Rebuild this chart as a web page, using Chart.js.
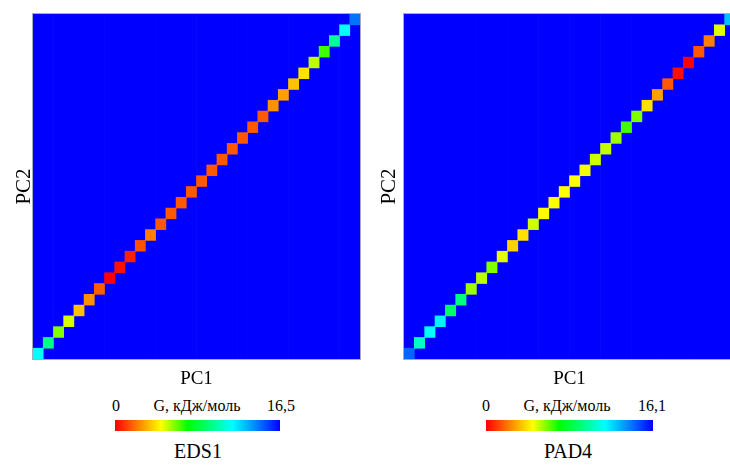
<!DOCTYPE html>
<html>
<head>
<meta charset="utf-8">
<script src="https://cdn.jsdelivr.net/npm/chart.js@4.4.1/dist/chart.umd.min.js"></script>
<style>
  html, body { margin: 0; padding: 0; background: #fff; overflow: hidden; }
  body { width: 730px; height: 465px; position: relative; font-family: 'Liberation Serif', 'Times New Roman', serif; color: #000; }
  .panel { position: absolute; top: 0; }
  .lbl { position: absolute; font-size: 16px; line-height: 16px; white-space: nowrap; }
  .name { position: absolute; font-size: 20px; line-height: 20px; white-space: nowrap; }
  .bar { position: absolute; top: 420px; height: 11px; }
</style>
</head>
<body>
<canvas id="chartEDS1" class="panel" style="left:0px" width="365" height="395"></canvas>
<canvas id="chartPAD4" class="panel" style="left:371px" width="364" height="395"></canvas>

<div class="lbl" style="left:112px; top:398px">0</div>
<div class="lbl" style="left:197px; top:398px; transform:translateX(-50%)">G, кДж/моль</div>
<div class="lbl" style="left:267px; top:398px">16,5</div>
<div class="bar" id="barEDS1" style="left:115px; width:165px"></div>
<div class="name" style="left:198px; top:441px; transform:translateX(-50%)">EDS1</div>

<div class="lbl" style="left:482px; top:398px">0</div>
<div class="lbl" style="left:567px; top:398px; transform:translateX(-50%)">G, кДж/моль</div>
<div class="lbl" style="left:638px; top:398px">16,1</div>
<div class="bar" id="barPAD4" style="left:486px; width:167px"></div>
<div class="name" style="left:568px; top:441px; transform:translateX(-50%)">PAD4</div>

<script>
// PC1 bins (columns), diagonal cell = same bin on PC2
const pcBins = [1, 2, 3, 4, 5, 6, 7, 8, 9, 10, 11, 12, 13, 14, 15, 16,
                17, 18, 19, 20, 21, 22, 23, 24, 25, 26, 27, 28, 29, 30, 31, 32];

// free energy G (kJ/mol) on the diagonal, from bin 1 (bottom-left) to 32 (top-right)
const gEDS1 = [11.7, 9.6, 5.9, 5.0, 3.5, 2.6, 1.7, 0.0, 0.3, 0.6, 1.5, 2.3,
               1.6, 1.6, 1.6, 1.6, 1.6, 1.6, 1.6, 1.6, 1.6, 1.6, 1.6,
               2.6, 2.9, 3.5, 4.1, 5.3, 6.6, 9.9, 11.7, 14.4];
const gPAD4 = [14.3, 10.4, 11.4, 11.6, 8.8, 9.3, 5.5, 5.2, 5.8, 4.8,
               3.7, 4.0, 5.0, 4.5, 4.5, 4.5, 4.5, 4.6, 5.0, 5.1,
               5.5, 6.4, 5.8, 4.0, 2.8, 1.55, 0.25, 0.0, 1.55, 2.25,
               4.8, 12.6];

// colour scale ends
const gMaxEDS1 = 16.5;
const gMaxPAD4 = 16.1;

// reversed jet: red at 0, blue at max
const jetStops = [
  [0.00, 255, 0, 0],
  [0.14, 255, 128, 0],
  [0.28, 255, 255, 0],
  [0.44, 0, 255, 0],
  [0.58, 0, 255, 128],
  [0.71, 0, 255, 255],
  [0.86, 0, 128, 255],
  [1.00, 0, 0, 255]
];

function jet(t) {
  t = Math.max(0, Math.min(1, t));
  for (let i = 1; i < jetStops.length; i++) {
    const a = jetStops[i - 1], b = jetStops[i];
    if (t <= b[0]) {
      const f = (t - a[0]) / (b[0] - a[0]);
      const c = [1, 2, 3].map(k => Math.round(a[k] + (b[k] - a[k]) * f));
      return `rgb(${c[0]},${c[1]},${c[2]})`;
    }
  }
  return 'rgb(0,0,255)';
}

const serif = "'Liberation Serif', 'Times New Roman', serif";
const stripeEdges = [1, 3, 4, 7, 8, 10, 11, 14, 15, 17, 18, 21, 22, 25, 26, 28, 29];

const frame = {
  id: 'frame',
  afterDraw(chart) {
    const { ctx, chartArea: a } = chart;
    ctx.save();
    ctx.strokeStyle = '#a9a9c4';
    ctx.lineWidth = 1;
    ctx.strokeRect(a.left - 0.5, a.top - 0.5, a.width + 1, a.height + 1);
    ctx.restore();
  }
};

function makePanel(id, values, gMax, yTitlePad, padRight) {
  new Chart(document.getElementById(id), {
    type: 'bar',
    data: {
      labels: pcBins,
      datasets: [
        {
          label: 'G',
          data: values.map((v, i) => [i, i + 1]),
          backgroundColor: values.map(v => jet(v / gMax)),
          grouped: false,
          order: 0
        },
        {
          label: 'фон',
          data: pcBins.map(() => [0, pcBins.length]),
          backgroundColor: jet(gMax / gMax),
          grouped: false,
          order: 1
        }
      ]
    },
    options: {
      responsive: false,
      animation: false,
      devicePixelRatio: 1,
      layout: { padding: { top: 14, right: padRight, left: 0, bottom: 0 } },
      datasets: { bar: { barPercentage: 1, categoryPercentage: 1, borderWidth: 0, borderSkipped: false } },
      plugins: { legend: { display: false }, tooltip: { enabled: false } },
      scales: {
        x: {
          offset: true,
          z: 1,
          ticks: { display: false },
          grid: {
            offset: true,
            drawTicks: false,
            lineWidth: 1,
            color: ctx => stripeEdges.includes(ctx.index) ? 'rgba(120,120,255,0.7)' : 'rgba(0,0,0,0)'
          },
          border: { display: false },
          title: { display: true, text: 'PC1', color: '#000', font: { family: serif, size: 19 }, padding: { top: 0, bottom: 5 } },
          afterFit: s => { s.height = 36; }
        },
        y: {
          min: 0,
          max: pcBins.length,
          ticks: { display: false },
          grid: { display: false, drawTicks: false },
          border: { display: false },
          title: { display: true, text: 'PC2', color: '#000', font: { family: serif, size: 21 }, padding: { top: yTitlePad, bottom: 0 } },
          afterFit: s => { s.width = 33; }
        }
      }
    },
    plugins: [frame]
  });
}

makePanel('chartEDS1', gEDS1, gMaxEDS1, 12, 5);
makePanel('chartPAD4', gPAD4, gMaxPAD4, 6, 0);

// colour bars
function barGradient() {
  return 'linear-gradient(to right, ' + jetStops.map(s => `${jet(s[0])} ${s[0] * 100}%`).join(', ') + ')';
}
document.getElementById('barEDS1').style.background = barGradient();
document.getElementById('barPAD4').style.background = barGradient();
</script>
</body>
</html>
